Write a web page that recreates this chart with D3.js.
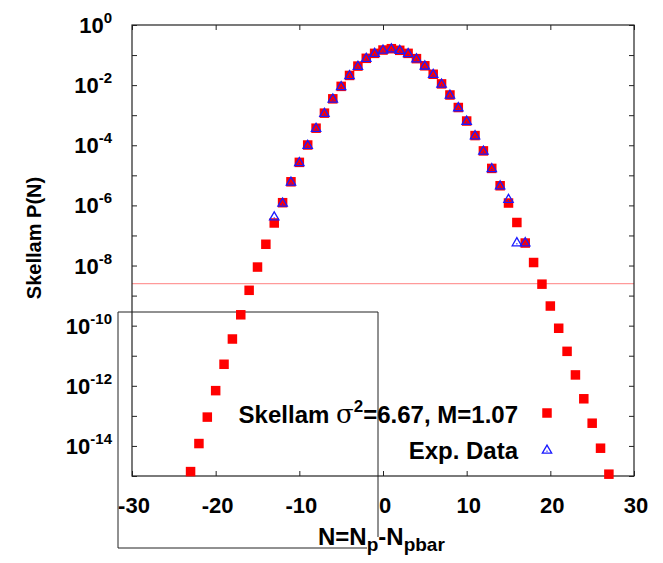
<!doctype html>
<html lang="en">
<head>
  <script src="https://d3js.org/d3.v7.min.js"></script>
  <style>
    body { margin: 0px; background: #fff; }
    text { font-family: "Liberation Sans", Arial, sans-serif; font-weight: bold; fill: #000; }
  </style>
</head>
<body>
  <div id="container"></div>
  <script>
    // N values of the Skellam curve and of the measured points
    var skN = d3.range(-23, 28);
    var skP = [1.4e-15, 1.2e-14, 9.1e-14, 6.9e-13, 5.2e-12, 3.6e-11, 2.3e-10, 1.5e-9, 8.9e-9, 5.1e-8,
               2.6e-7, 1.23e-6, 6.1e-6, 2.7e-5, 1.02e-4, 3.7e-4, 1.17e-3, 3.5e-3, 9.1e-3, 2.1e-2,
               4.3e-2, 7.8e-2, 0.114, 0.147, 0.163, 0.144, 0.114, 0.076, 0.044, 0.023,
               0.011, 4.7e-3, 1.8e-3, 6.4e-4, 2.1e-4, 6.5e-5, 1.7e-5, 4.5e-6, 1.2e-6, 2.7e-7,
               5.6e-8, 1.26e-8, 2.4e-9, 4.5e-10, 8.2e-11, 1.4e-11, 2.3e-12, 3.7e-13, 5.7e-14, 8.4e-15,
               1.15e-15];
    var expN = d3.range(-13, 18);
    var expP = [4.2e-7, 1.2e-6, 6.0e-6, 2.7e-5, 1.0e-4, 3.7e-4, 1.17e-3, 3.5e-3, 9.1e-3, 2.1e-2,
                4.3e-2, 7.9e-2, 0.115, 0.148, 0.163, 0.145, 0.114, 0.076, 0.044, 0.023,
                0.011, 4.7e-3, 1.8e-3, 6.4e-4, 2.1e-4, 6.5e-5, 1.7e-5, 4.5e-6, 1.6e-6, 5.8e-8,
                5.8e-8];
    var xTicks = [-30, -20, -10, 0, 10, 20, 30];
    var yLabelExp = [0, -2, -4, -6, -8, -10, -12, -14];
    var cutLevel = 2.5e-9;

    var W = 663, H = 563;
    var svg = d3.select('#container').append('svg')
        .attr('width', W).attr('height', H);
    svg.append('rect').attr('width', W).attr('height', H).attr('fill', '#fff');

    var x = d3.scaleLinear().domain([-30, 30]).range([132, 634]);
    var y = d3.scaleLog().domain([1e-15, 1]).range([476, 25]);

    var decades = d3.range(-15, 1).map(function (e) { return Math.pow(10, e); });

    // ticks, all pointing inward
    function noDomain(g) { g.select('.domain').remove(); g.selectAll('line').attr('stroke', '#222'); }
    svg.append('g').attr('transform', 'translate(0,476)')
        .call(d3.axisBottom(x).tickValues(xTicks).tickSize(-5).tickFormat('')).call(noDomain);
    svg.append('g').attr('transform', 'translate(0,25)')
        .call(d3.axisTop(x).tickValues(xTicks).tickSize(-5).tickFormat('')).call(noDomain);
    svg.append('g').attr('transform', 'translate(132,0)')
        .call(d3.axisLeft(y).tickValues(decades).tickSize(-5).tickFormat('')).call(noDomain);
    svg.append('g').attr('transform', 'translate(634,0)')
        .call(d3.axisRight(y).tickValues(decades).tickSize(-5).tickFormat('')).call(noDomain);

    // pink horizontal line
    svg.append('line')
        .attr('x1', x(-30)).attr('x2', x(30))
        .attr('y1', y(cutLevel)).attr('y2', y(cutLevel))
        .attr('stroke', '#ff9a9a').attr('stroke-width', 1.2);

    // frame
    svg.append('rect')
        .attr('x', 132).attr('y', 25).attr('width', 502).attr('height', 451)
        .attr('fill', 'none').attr('stroke', '#222').attr('stroke-width', 1.2);

    // annotation box (open at bottom right corner under the x label)
    svg.append('path')
        .attr('d', 'M118,548 V312 H378 V537 M118,548 H367')
        .attr('fill', 'none').attr('stroke', '#222').attr('stroke-width', 1);

    // tick labels
    svg.append('g').selectAll('text').data(xTicks).enter().append('text')
        .attr('x', function (d) { return x(d) + 2; })
        .attr('y', 513)
        .attr('text-anchor', 'middle')
        .style('font-size', '22px')
        .text(function (d) { return d; });

    var yl = svg.append('g').selectAll('text').data(yLabelExp).enter().append('text')
        .attr('x', 112)
        .attr('y', function (d) { return y(Math.pow(10, d)) + 8; })
        .attr('text-anchor', 'end')
        .style('font-size', '22px');
    yl.append('tspan').text('10');
    yl.append('tspan').attr('dy', -10).style('font-size', '15px').text(function (d) { return d === 0 ? '0' : '-' + (-d); });

    // axis titles
    svg.append('text')
        .attr('transform', 'translate(41,238) rotate(-90)')
        .attr('text-anchor', 'middle')
        .style('font-size', '20px')
        .text('Skellam P(N)');

    var xt = svg.append('text').attr('x', 318).attr('y', 545).style('font-size', '24px');
    xt.append('tspan').text('N=N');
    xt.append('tspan').attr('dy', 6).style('font-size', '19px').text('p');
    xt.append('tspan').attr('dy', -6).text('-N');
    xt.append('tspan').attr('dy', 6).style('font-size', '19px').text('pbar');

    // Skellam squares
    var sq = 9.5;
    svg.append('g').selectAll('rect').data(skN).enter().append('rect')
        .attr('x', function (d) { return x(d) - sq / 2; })
        .attr('y', function (d, i) { return y(skP[i]) - sq / 2; })
        .attr('width', sq).attr('height', sq)
        .attr('fill', '#ff0000');

    // experimental triangles
    var tri = d3.symbol().type(d3.symbolTriangle).size(38);
    function drawTri(g, cx, cy) {
        g.append('path').attr('d', tri())
            .attr('transform', 'translate(' + cx + ',' + (cy + 0.5) + ')')
            .attr('fill', 'none').attr('stroke', '#1a1aff').attr('stroke-width', 1.3);
        g.append('rect').attr('x', cx - 0.6).attr('y', cy + 0.6).attr('width', 1.2).attr('height', 1.2)
            .attr('fill', '#1a1aff');
    }
    var tg = svg.append('g');
    expN.forEach(function (n, i) { drawTri(tg, x(n), y(expP[i])); });

    // legend
    var lg = svg.append('g');
    var l1 = lg.append('text').attr('x', 518).attr('y', 423).attr('text-anchor', 'end').style('font-size', '24px');
    l1.append('tspan').text('Skellam ');
    l1.append('tspan').style('font-family', '"DejaVu Serif", serif').style('font-weight', 'normal').style('font-size', '26px').text('σ');
    l1.append('tspan').attr('dy', -11).style('font-size', '17px').text('2');
    l1.append('tspan').attr('dy', 11).text('=6.67, M=1.07');
    lg.append('rect').attr('x', 547 - sq / 2).attr('y', 413 - sq / 2).attr('width', sq).attr('height', sq).attr('fill', '#ff0000');

    lg.append('text').attr('x', 518).attr('y', 459).attr('text-anchor', 'end').style('font-size', '24px').text('Exp. Data');
    drawTri(lg, 547, 450);
  </script>
</body>
</html>
